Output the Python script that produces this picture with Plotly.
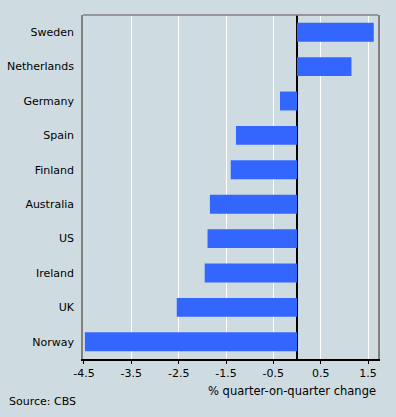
import plotly.graph_objects as go

countries = ["Sweden", "Netherlands", "Germany", "Spain", "Finland",
             "Australia", "US", "Ireland", "UK", "Norway"]
values = [1.62, 1.15, -0.36, -1.29, -1.40, -1.84, -1.89, -1.95, -2.54, -4.48]
tick_vals = [-4.5, -3.5, -2.5, -1.5, -0.5, 0.5, 1.5]
tick_text = ["-4.5", "-3.5", "-2.5", "-1.5", "-0.5", "0.5", "1.5"]

BG = "#CEDCE1"
FONT = "DejaVu Sans"

fig = go.Figure(go.Bar(
    x=values, y=countries, orientation="h",
    marker=dict(color="#3366FF", line=dict(width=0)),
    width=0.55,
))

fig.update_layout(
    width=396, height=417,
    margin=dict(l=83, r=18, t=15, b=58),
    paper_bgcolor=BG, plot_bgcolor=BG,
    font=dict(family=FONT, size=11, color="#000000"),
    showlegend=False,
    xaxis=dict(
        range=[-4.52, 1.71],
        tickvals=tick_vals, ticktext=tick_text,
        showgrid=True, gridcolor="#FFFFFF", gridwidth=1,
        zeroline=True, zerolinecolor="#000000", zerolinewidth=1.5,
        showline=True, linecolor="#000000", linewidth=1.5,
        ticks="outside", ticklen=3, tickcolor="#000000",
        tickfont=dict(size=11),
        automargin=False,
        fixedrange=True,
    ),
    yaxis=dict(
        categoryorder="array", categoryarray=countries,
        range=[9.5, -0.5],
        showgrid=False, zeroline=False,
        showline=True, linecolor="#808080", linewidth=1.5, mirror=True,
        ticks="", ticklabelstandoff=5,
        tickfont=dict(size=11),
        automargin=False,
        fixedrange=True,
    ),
    shapes=[dict(type="line", xref="paper", yref="paper",
                 x0=0, x1=1, y0=1, y1=1,
                 line=dict(color="#808080", width=1.5))],
    annotations=[
        dict(text="% quarter-on-quarter change", xref="paper", yref="paper",
             x=1, y=0, xanchor="right", yanchor="middle", yshift=-32,
             showarrow=False, font=dict(size=11.5)),
        dict(text="Source: CBS", xref="paper", yref="paper",
             x=0, y=0, xanchor="left", yanchor="middle", xshift=-76, yshift=-42,
             showarrow=False, font=dict(size=11)),
    ],
)

fig.write_html(
    "out.html",
    config={"displayModeBar": False},
    post_script="document.body.style.margin='0';document.body.style.background='%s';" % BG,
)
